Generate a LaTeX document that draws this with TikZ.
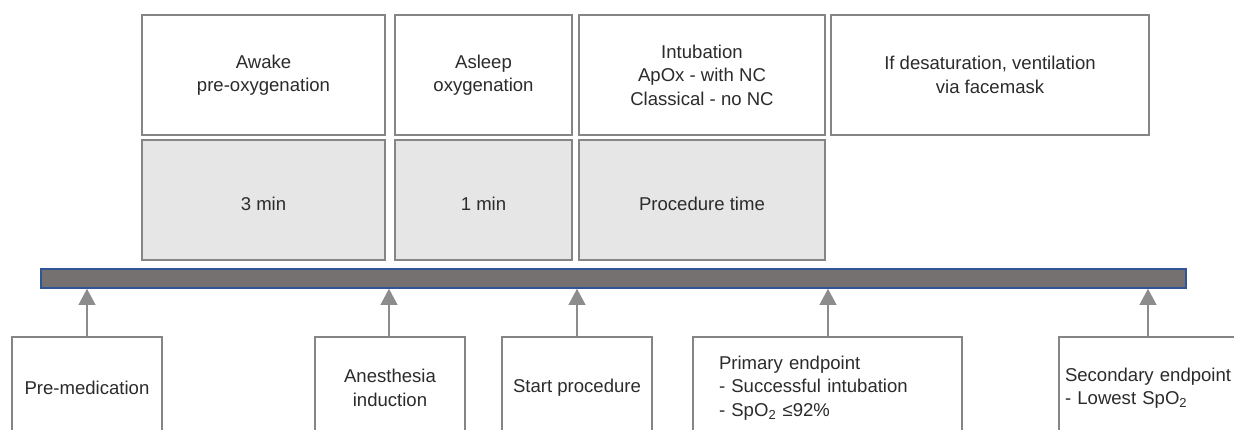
\documentclass[tikz,border=0pt]{standalone}
\usepackage{fontspec}
\setmainfont{Liberation Sans}
\usetikzlibrary{arrows.meta}
\definecolor{boxline}{HTML}{858585}
\definecolor{boxfill}{HTML}{E6E6E6}
\definecolor{barfill}{HTML}{767171}
\definecolor{barline}{HTML}{2F5597}
\definecolor{arrowgray}{HTML}{8C8C8C}
\definecolor{txt}{HTML}{2B2B2B}
\newcommand{\boxfont}{\fontsize{13.2pt}{16.7pt}\selectfont}
\tikzset{
  phase/.style={draw=boxline, line width=1.1pt, fill=white, text=txt, align=center,
    minimum height=3cm, inner sep=0pt, font=\boxfont},
  span/.style={phase, fill=boxfill, text height=0.53cm, text depth=0pt},
  event/.style={phase, minimum height=2.55cm, minimum width=3.75cm},
  marker/.style={draw=arrowgray, line width=0.9pt, -{Triangle[width=0.42cm, length=0.4cm]}}
}

\begin{document}
\begin{tikzpicture}
    \path[use as bounding box, clip](0, 0) rectangle (30.85, -10.75);
    % what is done
    \node[phase, minimum width=6.075cm](awake) at (6.5875, -1.875){Awake\\pre-oxygenation};
    \node[phase, minimum width=4.425cm](asleep) at (12.0875, -1.875){Asleep\\oxygenation};
    \node[phase, minimum width=6.15cm](intub) at (17.55, -1.875){Intubation\\ApOx - with NC\\Classical - no NC};
    \node[phase, minimum width=7.95cm](mask) at (24.75, -1.875){If desaturation, ventilation\\via facemask};
    % how long
    \node[span, minimum width=6.075cm](t1) at (6.5875, -5){3 min};
    \node[span, minimum width=4.425cm](t2) at (12.0875, -5){1 min};
    \node[span, minimum width=6.15cm](t3) at (17.55, -5){Procedure time};
    % time line
    \node[draw=barline, fill=barfill, line width=1.1pt, minimum width=28.625cm, minimum height=0.475cm, inner sep=0pt](bar) at (15.3375, -6.9625){};
    % events
    \node[event](premed) at (2.175, -9.7){Pre-medication};
    \node[event](induct) at (9.75, -9.7){Anesthesia\\induction};
    \node[event](start) at (14.425, -9.7){Start procedure};
    \node[event, minimum width=6.725cm, text width=5.425cm, inner xsep=0.65cm, align=left](primary) at (20.6875, -9.7){Primary endpoint\\- Successful intubation\\- SpO\textsubscript{2} ≤92\%};
    \node[event, minimum width=5.275cm, text width=4.975cm, inner xsep=0.15cm, align=left](second) at (29.1125, -9.7){Secondary endpoint\\- Lowest SpO\textsubscript{2}};
    \draw[marker](premed.north) -- (premed.north |- bar.south);
    \draw[marker]([xshift=-0.025cm]induct.north) -- ([xshift=-0.025cm]induct.north |- bar.south);
    \draw[marker](start.north) -- (start.north |- bar.south);
    \draw[marker]([xshift=0.0125cm]primary.north) -- ([xshift=0.0125cm]primary.north |- bar.south);
    \draw[marker]([xshift=-0.4125cm]second.north) -- ([xshift=-0.4125cm]second.north |- bar.south);
\end{tikzpicture}
\end{document}
